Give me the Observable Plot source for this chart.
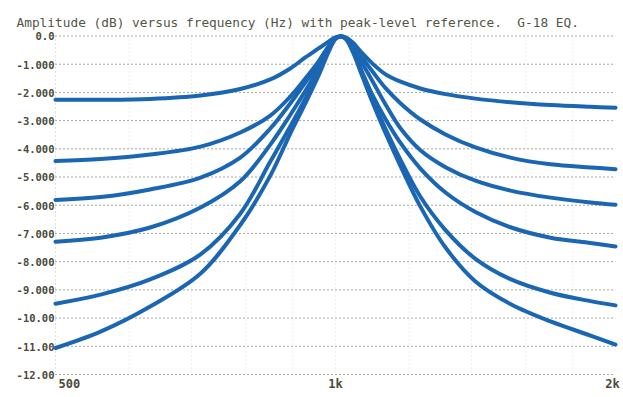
<!DOCTYPE html>
<html>
<head>
<meta charset="utf-8">
<script src="https://cdn.jsdelivr.net/npm/d3@7"></script>
<script src="https://cdn.jsdelivr.net/npm/@observablehq/plot@0.6"></script>
<style>
  html, body { margin: 0; padding: 0; background: #fff; }
  #chart svg { display: block; }
</style>
</head>
<body>
<div id="chart"></div>
<script>
const title = "Amplitude (dB) versus frequency (Hz) with peak-level reference.  G-18 EQ.";

// Frequencies (Hz) where the curves were read
const freqs = [500, 559, 632, 716, 790, 851, 894, 928, 959, 983, 1000, 1012, 1025, 1043, 1069, 1096, 1132, 1175, 1234, 1313, 1414, 1542, 1703, 1880, 2000];

// Amplitude (dB) of each curve at those frequencies
const curve1 = [-2.26, -2.26, -2.23, -2.11, -1.88, -1.54, -1.15, -0.76, -0.44, -0.20, -0.05, -0.02, -0.05, -0.22, -0.62, -0.98, -1.36, -1.62, -1.86, -2.06, -2.22, -2.35, -2.45, -2.51, -2.54];
const curve2 = [-4.43, -4.36, -4.20, -3.92, -3.42, -2.82, -2.15, -1.51, -0.90, -0.36, -0.07, -0.02, -0.06, -0.30, -0.78, -1.26, -1.85, -2.39, -2.96, -3.49, -3.95, -4.31, -4.55, -4.66, -4.72];
const curve3 = [-5.81, -5.71, -5.44, -5.02, -4.31, -3.28, -2.39, -1.65, -1.01, -0.42, -0.08, -0.02, -0.07, -0.35, -0.98, -1.60, -2.43, -3.28, -4.05, -4.65, -5.13, -5.48, -5.73, -5.90, -5.98];
const curve4 = [-7.29, -7.15, -6.79, -6.08, -5.15, -3.85, -2.80, -1.95, -1.15, -0.48, -0.09, -0.02, -0.08, -0.45, -1.30, -2.10, -2.95, -3.80, -4.70, -5.55, -6.24, -6.78, -7.15, -7.34, -7.46];
const curve5 = [-9.49, -9.17, -8.63, -7.74, -6.30, -4.45, -3.21, -2.22, -1.29, -0.52, -0.10, -0.02, -0.09, -0.50, -1.38, -2.25, -3.30, -4.40, -5.70, -6.88, -7.90, -8.62, -9.10, -9.40, -9.55];
const curve6 = [-11.06, -10.48, -9.59, -8.42, -6.70, -4.95, -3.46, -2.39, -1.40, -0.56, -0.10, -0.02, -0.09, -0.54, -1.44, -2.35, -3.45, -4.62, -6.05, -7.50, -8.70, -9.50, -10.12, -10.62, -10.94];

// Axis ticks
const yTicks = [0, -1, -2, -3, -4, -5, -6, -7, -8, -9, -10, -11, -12];
const yTickLabels = ["0.0", "-1.000", "-2.000", "-3.000", "-4.000", "-5.000", "-6.000", "-7.000", "-8.000", "-9.000", "-10.00", "-11.00", "-12.00"];
const xTicks = [500, 1000, 2000];
const xTickLabels = ["500", "1k", "2k"];
const xGrid = [600, 700, 800, 900, 1000, 1200, 1400, 1600, 1800];

const curves = [curve1, curve2, curve3, curve4, curve5, curve6];
const data = curves.flatMap((c, i) => c.map((v, j) => ({curve: i, f: freqs[j], db: v})));
const yTickData = yTicks.map((v, i) => ({v, label: yTickLabels[i]}));
const xTickData = xTicks.map((v, i) => ({v, label: xTickLabels[i]}));

const mono = "'DejaVu Sans Mono', 'Liberation Mono', monospace";
const labelStyle = {frameAnchor: "bottom", text: "label", dy: 13, fill: "#4a4a38", fontSize: 12, fontFamily: mono, fontWeight: "bold"};

const chart = Plot.plot({
  width: 623,
  height: 397,
  marginLeft: 55,
  marginRight: 8,
  marginTop: 35.5,
  marginBottom: 23,
  style: {background: "#fff", fontFamily: mono},
  x: {type: "log", domain: [500, 2000], axis: null},
  y: {domain: [-12, 0], axis: null},
  marks: [
    Plot.ruleX(xGrid, {stroke: "#c8c8c0", strokeWidth: 1, strokeDasharray: "1,3", strokeOpacity: 0.6}),
    Plot.ruleY(yTicks, {stroke: "#a8a8a0", strokeWidth: 1, strokeDasharray: "2,2"}),
    Plot.ruleX([500], {stroke: "#c0c0b8", strokeDasharray: "1,3"}),
    Plot.line(data, {x: "f", y: "db", z: "curve", stroke: "#1b66b3", strokeWidth: 4, curve: "catmull-rom", strokeLinecap: "round"}),
    Plot.text(yTickData, {frameAnchor: "left", y: "v", text: "label", textAnchor: "end", dx: -1, dy: 1, fill: "#4a4a38", fontSize: 10.5, fontFamily: mono, fontWeight: "bold"}),
    Plot.text(xTickData.slice(0, 1), {...labelStyle, x: "v", textAnchor: "start", dx: 3}),
    Plot.text(xTickData.slice(1, 2), {...labelStyle, x: "v", textAnchor: "middle", dx: 0}),
    Plot.text(xTickData.slice(2, 3), {...labelStyle, x: "v", textAnchor: "middle", dx: -3}),
    Plot.text([title], {frameAnchor: "top-left", dx: -39, dy: -18, textAnchor: "start", fill: "#555548", fontSize: 12.8, fontFamily: mono})
  ]
});
document.getElementById("chart").appendChild(chart);
</script>
</body>
</html>
